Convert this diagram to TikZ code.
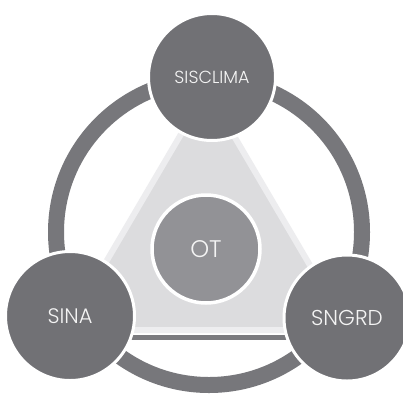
\documentclass[tikz,border=0pt]{standalone}
\usepackage{fontspec}
\IfFontExistsTF{Poppins Light}{\setmainfont{Poppins Light}}{\setmainfont{Poppins}}
\definecolor{bigc}{HTML}{717175}
\definecolor{ringc}{HTML}{77777B}
\definecolor{otc}{HTML}{929296}
\definecolor{trif}{HTML}{DCDCDE}
\definecolor{trib}{HTML}{EDEDEF}
\definecolor{barc}{HTML}{7A7A7E}
\definecolor{txt}{HTML}{F4F4F4}
\tikzset{
  bigcircle/.style={circle, fill=bigc, draw=white, line width=3pt, inner sep=0pt, text=txt},
  otcircle/.style={circle, fill=otc, draw=white, line width=3.5pt, inner sep=0pt, text=txt},
  ringline/.style={draw=ringc, line width=16pt},
  trishape/.style={fill=trif, draw=trib, line width=6pt, line join=miter}
}
\begin{document}
\begin{tikzpicture}[x=1pt,y=-1pt]
\useasboundingbox (0,0) rectangle (403,394);
\fill[white] (0,0) rectangle (403,394);
% ring
\draw[ringline] (209,232) circle (153);
% central triangle
\draw[trishape] (207,90) -- (66,330) -- (348,330) -- cycle;
\fill[barc] (120,335) rectangle (300,340);
% outer circles
\node[bigcircle, minimum size=127pt, font=\fontsize{17.5}{19}\selectfont] (sisclima) at (212,77) {SISCLIMA};
\node[bigcircle, minimum size=129pt, font=\fontsize{21}{23}\selectfont] (sina) at (70,316) {SINA};
\node[bigcircle, minimum size=126pt, font=\fontsize{21.5}{23}\selectfont] (sngrd) at (347,318) {SNGRD};
% centre
\node[otcircle, minimum size=108pt, font=\fontsize{24}{26}\selectfont] (ot) at (206,249) {OT};
\end{tikzpicture}
\end{document}
